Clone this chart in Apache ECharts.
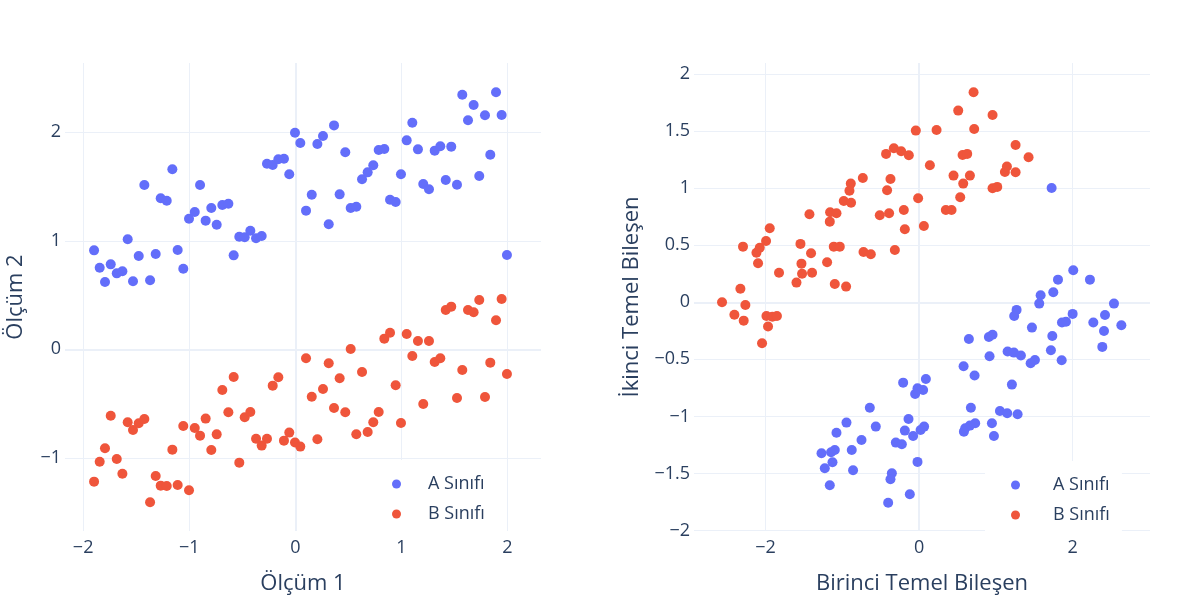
<!DOCTYPE html>
<html>
<head>
<meta charset="utf-8">
<title>Sınıflar ve Temel Bileşenler</title>
<script src="https://cdn.jsdelivr.net/npm/echarts@6/dist/echarts.min.js"></script>
<style>
  html, body { margin: 0; padding: 0; background: #fff; }
  #chart { width: 1200px; height: 600px; }
</style>
</head>
<body>
<div id="chart"></div>
<script>
// sol panel: ölçümler (iki sınıf aynı x değerlerini paylaşıyor)
const olcum1 = [
  -1.897, -1.844, -1.794, -1.740, -1.683, -1.630, -1.580, -1.530, -1.476, -1.423,
  -1.369, -1.316, -1.269, -1.212, -1.159, -1.109, -1.056, -1.002, -0.948, -0.898,
  -0.845, -0.792, -0.741, -0.688, -0.631, -0.581, -0.528, -0.477, -0.424, -0.370,
  -0.317, -0.267, -0.213, -0.160, -0.107, -0.057, -0.003, 0.047, 0.101, 0.155,
  0.208, 0.261, 0.315, 0.365, 0.418, 0.471, 0.522, 0.575, 0.629, 0.682,
  0.735, 0.786, 0.839, 0.893, 0.946, 0.996, 1.050, 1.103, 1.156, 1.206,
  1.260, 1.314, 1.367, 1.418, 1.470, 1.524, 1.574, 1.628, 1.681, 1.734,
  1.788, 1.838, 1.892, 1.945, 1.995
];
const olcum2A = [
  0.912, 0.752, 0.620, 0.783, 0.700, 0.719, 1.014, 0.627, 0.860, 1.514,
  0.636, 0.878, 1.392, 1.370, 1.659, 0.915, 0.743, 1.204, 1.265, 1.514,
  1.186, 1.302, 1.148, 1.330, 1.342, 0.866, 1.038, 1.032, 1.093, 1.023,
  1.044, 1.711, 1.699, 1.751, 1.757, 1.613, 1.996, 1.901, 1.278, 1.425,
  1.892, 1.966, 1.152, 2.064, 1.428, 1.816, 1.302, 1.314, 1.567, 1.631,
  1.696, 1.837, 1.846, 1.379, 1.358, 1.613, 1.926, 2.089, 1.843, 1.524,
  1.475, 1.831, 1.871, 1.560, 1.868, 1.517, 2.347, 2.111, 2.252, 1.597,
  2.157, 1.794, 2.369, 2.159, 0.869
];
const olcum2B = [
  -1.220, -1.036, -0.912, -0.612, -1.011, -1.147, -0.673, -0.744, -0.682, -0.642,
  -1.410, -1.168, -1.257, -1.260, -0.925, -1.251, -0.707, -1.300, -0.725, -0.796,
  -0.639, -0.928, -0.784, -0.375, -0.581, -0.255, -1.045, -0.627, -0.578, -0.824,
  -0.888, -0.824, -0.335, -0.258, -0.842, -0.768, -0.860, -0.897, -0.083, -0.437,
  -0.830, -0.366, -0.129, -0.541, -0.267, -0.581, 0.003, -0.783, -0.209, -0.762,
  -0.673, -0.578, 0.098, 0.153, -0.332, -0.679, 0.141, -0.062, 0.076, -0.504,
  0.076, -0.117, -0.083, 0.362, 0.393, -0.449, -0.191, 0.362, 0.341, 0.454,
  -0.440, -0.123, 0.267, 0.464, -0.228
];

// sağ panel: temel bileşenler
const pc1A = [
  -0.207, 0.089, 0.053, -0.020, -0.051, -0.641, -0.945, -1.075, -0.563, -0.749,
  -0.876, -1.097, -1.145, -1.270, -1.127, -1.227, -0.859, -1.162, -0.137, -0.185,
  -0.077, -0.302, -0.224, 0.020, 0.066, -0.020, -0.354, -0.372, -0.120, -0.402,
  2.008, 1.809, 2.225, 1.748, 1.583, 1.565, 2.538, 2.000, 2.421, 1.270,
  1.239, 1.470, 1.861, 1.913, 2.269, 2.634, 2.408, 1.735, 2.386, 0.649,
  0.909, 0.957, 0.918, 1.153, 1.235, 1.326, 1.717, 1.857, 1.453, 1.509,
  0.580, 0.723, 1.209, 0.675, 1.053, 1.148, 1.283, 0.731, 0.662, 0.601,
  0.584, 0.949, 0.975, 1.726
];
const pc2A = [
  -0.704, -0.672, -0.768, -0.753, -0.803, -0.923, -1.054, -1.142, -1.089, -1.206,
  -1.293, -1.293, -1.313, -1.322, -1.401, -1.454, -1.471, -1.602, -1.022, -1.124,
  -1.171, -1.229, -1.244, -1.118, -1.089, -1.398, -1.498, -1.550, -1.681, -1.755,
  0.280, 0.198, 0.198, 0.088, 0.061, -0.012, -0.012, -0.102, -0.111, -0.067,
  -0.120, -0.222, -0.178, -0.170, -0.178, -0.202, -0.251, -0.295, -0.391, -0.321,
  -0.304, -0.284, -0.473, -0.432, -0.441, -0.467, -0.420, -0.508, -0.534, -0.505,
  -0.560, -0.642, -0.721, -0.923, -0.952, -0.972, -0.981, -1.060, -1.080, -1.103,
  -1.133, -1.060, -1.171, 1.001
];
const pc1B = [
  -2.565, -2.326, -2.261, -2.292, -2.117, -2.096, -2.074, -1.992, -1.944, -1.823,
  -1.596, -1.544, -1.531, -1.523, -1.427, -1.406, -1.393, -1.197, -1.162, -1.158,
  -1.075, -1.097, -1.110, -1.032, -0.980, -0.950, -0.906, -0.889, -0.885, -0.732,
  -0.723, -0.628, -0.511, -0.429, -0.416, -0.390, -0.372, -0.328, -0.315, -0.233,
  -0.198, -0.185, -0.133, -0.042, -0.012, 0.063, 0.141, -2.404, -2.283, -1.987,
  -1.909, -1.850, -1.966, -2.044, 0.228, 0.349, 0.423, 0.449, 0.510, 0.536,
  0.575, 0.567, 0.627, 0.662, 0.710, 0.718, 0.957, 1.018, 0.957, 1.118,
  1.144, 1.257, 1.257, 1.426
];
const pc2B = [
  0.000, 0.119, -0.024, 0.487, 0.434, 0.341, 0.478, 0.537, 0.648, 0.259,
  0.172, 0.511, 0.338, 0.250, 0.771, 0.429, 0.259, 0.350, 0.706, 0.788,
  0.779, 0.160, 0.487, 0.487, 0.887, 0.137, 0.977, 1.039, 0.872, 1.088,
  0.440, 0.420, 0.762, 1.299, 0.981, 0.779, 1.080, 1.348, 0.458, 1.322,
  0.808, 0.639, 1.287, 1.503, 0.911, 0.668, 1.200, -0.109, -0.161, -0.120,
  -0.126, -0.120, -0.213, -0.359, 1.509, 0.808, 0.808, 1.109, 1.678, 0.919,
  1.039, 1.290, 1.299, 1.109, 1.839, 1.517, 0.998, 1.010, 1.640, 1.141,
  1.188, 1.138, 1.377, 1.269
];

const classNames = ["A Sınıfı", "B Sınıfı"];

const BLUE = "#636efa";
const RED = "#ef553b";
const GRID_COLOR = "#ebf0f8";
const TEXT_COLOR = "#2a3f5f";
const FONT = "'Open Sans', 'Noto Sans', sans-serif";

function pairs(xs, ys) {
  return xs.map((x, i) => [x, ys[i]]);
}

function minusLabel(v) {
  return String(v).replace("-", "\u2212");
}

function makeAxis(gridIndex, min, max, splitNumber, name, isY, nameGap) {
  return {
    type: "value",
    gridIndex: gridIndex,
    min: min,
    max: max,
    splitNumber: splitNumber,
    name: name,
    nameLocation: "middle",
    nameGap: nameGap,
    nameRotate: isY ? 90 : 0,
    nameTextStyle: { fontFamily: FONT, fontSize: 22, color: TEXT_COLOR },
    axisLine: { show: false },
    axisTick: { show: false },
    axisLabel: {
      fontFamily: FONT,
      fontSize: 18,
      color: TEXT_COLOR,
      margin: isY ? 4 : 8,
      showMinLabel: false,
      showMaxLabel: false,
      formatter: minusLabel,
    },
    splitLine: {
      show: true,
      showMinLine: false,
      showMaxLine: false,
      lineStyle: { color: GRID_COLOR, width: 1 },
    },
  };
}

// sıfır çizgileri: ayrı, boş bir seride, noktaların altında
function zeroSeries(idx) {
  return {
    type: "scatter",
    xAxisIndex: idx,
    yAxisIndex: idx,
    z: 1,
    silent: true,
    data: [],
    markLine: {
      silent: true,
      symbol: ["none", "none"],
      z: 1,
      label: { show: false },
      lineStyle: { color: GRID_COLOR, width: 2, type: "solid" },
      data: [{ xAxis: 0 }, { yAxis: 0 }],
    },
  };
}

function scatter(name, idx, data, color) {
  return {
    name: name,
    type: "scatter",
    xAxisIndex: idx,
    yAxisIndex: idx,
    z: 3,
    symbolSize: 10,
    itemStyle: { color: color, opacity: 1 },
    emphasis: { disabled: true },
    data: data,
  };
}

function makeLegend(left, top, textPad) {
  return {
    left: left,
    top: top,
    orient: "vertical",
    backgroundColor: "#fff",
    padding: [14, 12, 14, 26],
    itemWidth: 9,
    itemHeight: 9,
    itemGap: 10,
    icon: "circle",
    data: classNames,
    textStyle: {
      fontFamily: FONT,
      fontSize: 18,
      lineHeight: 20,
      color: TEXT_COLOR,
      padding: [0, 0, 0, textPad],
    },
  };
}

const option = {
  animation: false,
  backgroundColor: "#fff",
  grid: [
    { left: 65, top: 63, width: 476, height: 468 },
    { left: 694, top: 63, width: 456, height: 468 },
  ],
  xAxis: [
    makeAxis(0, -2.171, 2.316, 4, "Ölçüm 1", false, 42),
    makeAxis(1, -2.93, 3.007, 3, "Birinci Temel Bileşen", false, 42),
  ],
  yAxis: [
    makeAxis(0, -1.675, 2.639, 4, "Ölçüm 2", true, 38),
    makeAxis(1, -2.003, 2.095, 8, "İkinci Temel Bileşen", true, 51),
  ],
  legend: [makeLegend(366, 460, 22), makeLegend(985, 461, 28)],
  series: [
    zeroSeries(0),
    zeroSeries(1),
    scatter(classNames[0], 0, pairs(olcum1, olcum2A), BLUE),
    scatter(classNames[1], 0, pairs(olcum1, olcum2B), RED),
    scatter(classNames[0], 1, pairs(pc1A, pc2A), BLUE),
    scatter(classNames[1], 1, pairs(pc1B, pc2B), RED),
  ],
};

const chart = echarts.init(document.getElementById("chart"), null, { renderer: "canvas" });
chart.setOption(option);
</script>
</body>
</html>
